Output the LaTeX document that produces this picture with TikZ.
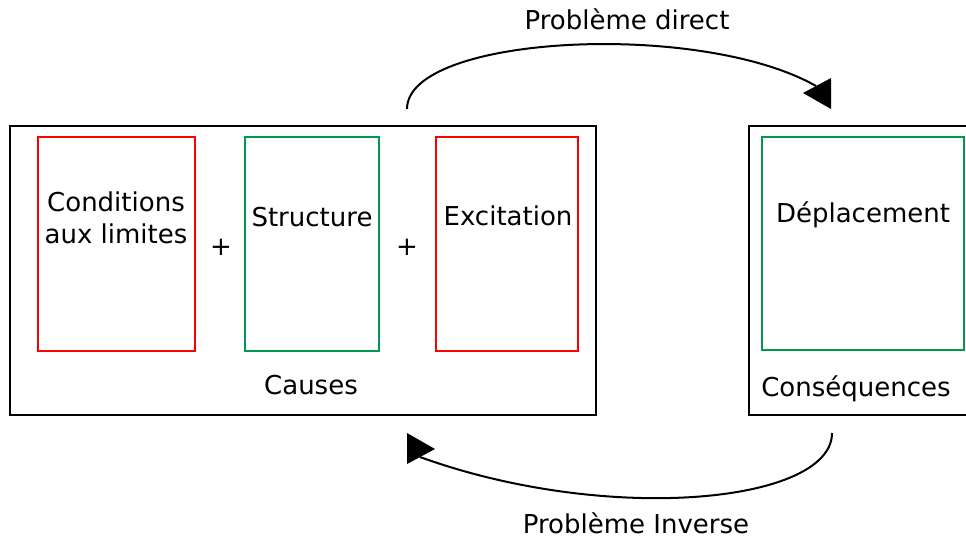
\documentclass[tikz,border=0pt]{standalone}
\usepackage{fontspec}
\setmainfont{DejaVu Sans}
\usepackage{xcolor}
\usetikzlibrary{
    positioning,
    calc
}
\definecolor{RougeCadre}{HTML}{FF0000}
\definecolor{VertCadre}{HTML}{00994D}

\begin{document}
\begin{tikzpicture}[
    x=0.75pt, y=-0.75pt,
    grandcadre/.style={draw=black, line width=1.5pt, inner sep=0pt},
    cadrerouge/.style={draw=RougeCadre, line width=1.4pt, inner sep=0pt},
    cadrevert/.style={draw=VertCadre, line width=1.4pt, inner sep=0pt},
    texte/.style={font=\fontsize{19.5}{24}\selectfont, inner sep=0pt, align=center},
    fleche/.style={line width=1.5pt}
]
    \useasboundingbox (0,0) rectangle (966,540);
    \clip (0,0) rectangle (966,540);

    \node[grandcadre, minimum width=439.5pt, minimum height=216.75pt] (causes) at (303,270.5) {};
    \node[cadrerouge, minimum width=117.75pt, minimum height=160.5pt] (limites) at (116.5,244) {};
    \node[cadrevert, minimum width=100.5pt, minimum height=160.5pt] (structure) at (312,244) {};
    \node[cadrerouge, minimum width=106.5pt, minimum height=160.5pt] (excitation) at (507,244) {};

    \node[grandcadre, minimum width=173.25pt, minimum height=216.75pt] (consequences) at (864.5,270.5) {};
    \node[cadrevert, minimum width=151.5pt, minimum height=159.75pt] (deplacement) at (863,243.5) {};

    \node[texte] (txtlimites) at (116,218) {Conditions\\aux limites};
    \node[texte, anchor=base] (txtstructure) at (312,226) {Structure};
    \node[texte, anchor=base] (txtexcitation) at (508,225) {Excitation};
    \node[texte] (plus1) at (221,247) {+};
    \node[texte] (plus2) at (407,247) {+};
    \node[texte, anchor=base] (txtcauses) at (311,394) {Causes};
    \node[texte, anchor=base] (txtdeplacement) at (863,222) {Déplacement};
    \node[texte, anchor=base] (txtconsequences) at (856,396) {Conséquences};

    \node[texte, anchor=base] (direct) at (627,29) {Problème direct};
    \node[texte, anchor=base] (inverse) at (636,533) {Problème Inverse};

    \coordinate (departA) at (407,109);
    \coordinate (arriveeA) at (816,86);
    \coordinate (pointeA) at (803,93);
    \draw[fleche] (departA) .. controls (407,35) and (700,20) .. (arriveeA);
    \fill (pointeA) -- ++(28,-15) -- ++(0,31) -- cycle;

    \coordinate (departB) at (832,433);
    \coordinate (arriveeB) at (420,457);
    \coordinate (pointeB) at (435,449);
    \draw[fleche] (departB) .. controls (832,503) and (608,525) .. (arriveeB);
    \fill (pointeB) -- ++(-28,-16) -- ++(0,31) -- cycle;
\end{tikzpicture}
\end{document}
